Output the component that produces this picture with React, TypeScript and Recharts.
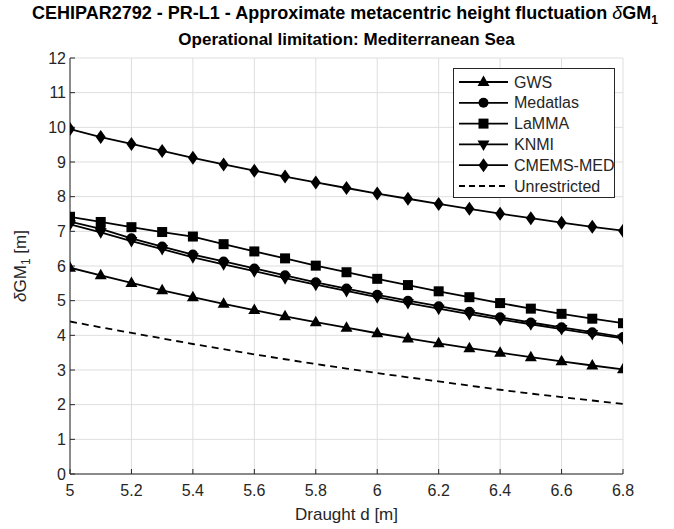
import { CartesianGrid, Line, LineChart, XAxis, YAxis } from "recharts";

const draught = [5, 5.1, 5.2, 5.3, 5.4, 5.5, 5.6, 5.7, 5.8, 5.9, 6, 6.1, 6.2, 6.3, 6.4, 6.5, 6.6, 6.7, 6.8];

const gws = [5.95, 5.73, 5.51, 5.3, 5.1, 4.91, 4.73, 4.55, 4.38, 4.22, 4.06, 3.91, 3.77, 3.63, 3.5, 3.37, 3.25, 3.13, 3.02];
const medatlas = [7.28, 7.07, 6.8, 6.56, 6.33, 6.13, 5.93, 5.73, 5.53, 5.35, 5.17, 5.0, 4.84, 4.68, 4.52, 4.37, 4.23, 4.09, 3.95];
const lamma = [7.42, 7.27, 7.12, 6.98, 6.85, 6.63, 6.42, 6.22, 6.01, 5.82, 5.63, 5.45, 5.27, 5.1, 4.93, 4.77, 4.62, 4.48, 4.35];
const knmi = [7.2, 6.97, 6.72, 6.49, 6.25, 6.05, 5.85, 5.65, 5.46, 5.28, 5.1, 4.93, 4.77, 4.61, 4.46, 4.32, 4.18, 4.04, 3.91];
const cmems = [9.95, 9.72, 9.52, 9.32, 9.12, 8.93, 8.75, 8.58, 8.41, 8.25, 8.09, 7.94, 7.79, 7.65, 7.51, 7.38, 7.25, 7.13, 7.02];
const unrestricted = [4.4, 4.23, 4.07, 3.91, 3.75, 3.6, 3.45, 3.31, 3.17, 3.04, 2.91, 2.79, 2.67, 2.55, 2.43, 2.32, 2.22, 2.12, 2.02];

const xTicks = [5, 5.2, 5.4, 5.6, 5.8, 6, 6.2, 6.4, 6.6, 6.8];
const yTicks = [0, 1, 2, 3, 4, 5, 6, 7, 8, 9, 10, 11, 12];

const data = draught.map((d, i) => ({
  d,
  gws: gws[i],
  medatlas: medatlas[i],
  lamma: lamma[i],
  knmi: knmi[i],
  cmems: cmems[i],
  unrestricted: unrestricted[i],
}));

const font = "'Liberation Sans', Arial, sans-serif";
const ink = "#262626";

type Kind = "up" | "circle" | "square" | "down" | "diamond";

function shape(kind: Kind, cx: number, cy: number, key?: string) {
  switch (kind) {
    case "up":
      return <path key={key} d={`M${cx},${cy - 6.5}L${cx + 6},${cy + 4}L${cx - 6},${cy + 4}Z`} fill="#000" />;
    case "down":
      return <path key={key} d={`M${cx},${cy + 6.5}L${cx + 6},${cy - 4}L${cx - 6},${cy - 4}Z`} fill="#000" />;
    case "circle":
      return <circle key={key} cx={cx} cy={cy} r={5} fill="#000" />;
    case "square":
      return <rect key={key} x={cx - 5} y={cy - 5} width={10} height={10} fill="#000" />;
    default:
      return <path key={key} d={`M${cx},${cy - 7}L${cx + 5},${cy}L${cx},${cy + 7}L${cx - 5},${cy}Z`} fill="#000" />;
  }
}

const marker = (kind: Kind) => (props: any) => shape(kind, props.cx, props.cy, `${kind}-${props.index}`);

const series: { key: string; name: string; kind?: Kind }[] = [
  { key: "gws", name: "GWS", kind: "up" },
  { key: "medatlas", name: "Medatlas", kind: "circle" },
  { key: "lamma", name: "LaMMA", kind: "square" },
  { key: "knmi", name: "KNMI", kind: "down" },
  { key: "cmems", name: "CMEMS-MED", kind: "diamond" },
  { key: "unrestricted", name: "Unrestricted" },
];

function LegendBox() {
  return (
    <svg width={162} height={130} style={{ position: "absolute", left: 453, top: 68, display: "block" }}>
      <rect x={0.5} y={0.5} width={161} height={129} fill="#fff" stroke={ink} strokeWidth={1} />
      {series.map((s, i) => {
        const y = 14 + i * 20.8;
        return (
          <g key={s.key}>
            <line
              x1={6}
              x2={55}
              y1={y}
              y2={y}
              stroke="#000"
              strokeWidth={1.8}
              strokeDasharray={s.kind ? undefined : "6 4"}
            />
            {s.kind && shape(s.kind, 30.5, y)}
            <text x={61} y={y + 5.5} fontSize={16} fontFamily={font} fill={ink}>
              {s.name}
            </text>
          </g>
        );
      })}
    </svg>
  );
}

export default function App() {
  return (
    <div style={{ position: "absolute", left: 0, top: 0, width: 674, height: 529, background: "#fff" }}>
      <div
        style={{
          position: "absolute",
          left: 8,
          top: 3,
          width: 674,
          textAlign: "center",
          fontFamily: font,
          fontWeight: "bold",
          fontSize: 18,
          color: "#000",
          whiteSpace: "nowrap",
        }}
      >
        CEHIPAR2792 - PR-L1 - Approximate metacentric height fluctuation <i style={{ fontWeight: "normal" }}>δ</i>GM
        <sub style={{ fontSize: 12 }}>1</sub>
      </div>
      <div
        style={{
          position: "absolute",
          left: 70,
          top: 30,
          width: 553,
          textAlign: "center",
          fontFamily: font,
          fontWeight: "bold",
          fontSize: 17,
          color: "#000",
          whiteSpace: "nowrap",
        }}
      >
        Operational limitation: Mediterranean Sea
      </div>
      <LineChart width={674} height={529} data={data} margin={{ top: 58, right: 51, bottom: 25, left: 40 }}>
        <CartesianGrid stroke="#dedede" strokeWidth={1} />
        <XAxis
          dataKey="d"
          type="number"
          domain={[5, 6.8]}
          ticks={xTicks}
          height={30}
          tickSize={-5}
          tickMargin={16}
          axisLine={{ stroke: ink }}
          tickLine={{ stroke: ink }}
          tick={{ fill: ink, fontSize: 16, fontFamily: font }}
          allowDataOverflow
        />
        <XAxis
          xAxisId="top"
          orientation="top"
          dataKey="d"
          type="number"
          domain={[5, 6.8]}
          ticks={xTicks}
          height={0}
          tickSize={-5}
          tickFormatter={() => ""}
          axisLine={{ stroke: ink }}
          tickLine={{ stroke: ink }}
        />
        <YAxis
          type="number"
          domain={[0, 12]}
          ticks={yTicks}
          width={30}
          tickSize={-5}
          tickMargin={9}
          interval={0}
          axisLine={{ stroke: ink }}
          tickLine={{ stroke: ink }}
          tick={{ fill: ink, fontSize: 16, fontFamily: font }}
        />
        <YAxis
          yAxisId="right"
          orientation="right"
          type="number"
          domain={[0, 12]}
          ticks={yTicks}
          width={0}
          tickSize={-5}
          tickFormatter={() => ""}
          axisLine={{ stroke: ink }}
          tickLine={{ stroke: ink }}
        />
        {series.map((s) => (
          <Line
            key={s.key}
            dataKey={s.key}
            name={s.name}
            type="linear"
            stroke="#000"
            strokeWidth={1.8}
            strokeDasharray={s.kind ? undefined : "7 5"}
            dot={s.kind ? marker(s.kind) : false}
            activeDot={false}
            isAnimationActive={false}
          />
        ))}
      </LineChart>
      <LegendBox />
      <div
        style={{
          position: "absolute",
          left: 70,
          top: 505,
          width: 553,
          textAlign: "center",
          fontFamily: font,
          fontSize: 17,
          color: ink,
        }}
      >
        Draught d [m]
      </div>
      <div
        style={{
          position: "absolute",
          left: 22,
          top: 266,
          transform: "translate(-50%, -50%) rotate(-90deg)",
          fontFamily: font,
          fontSize: 17,
          color: ink,
          whiteSpace: "nowrap",
        }}
      >
        <i>δ</i>GM<sub style={{ fontSize: 12 }}>1</sub> [m]
      </div>
    </div>
  );
}
